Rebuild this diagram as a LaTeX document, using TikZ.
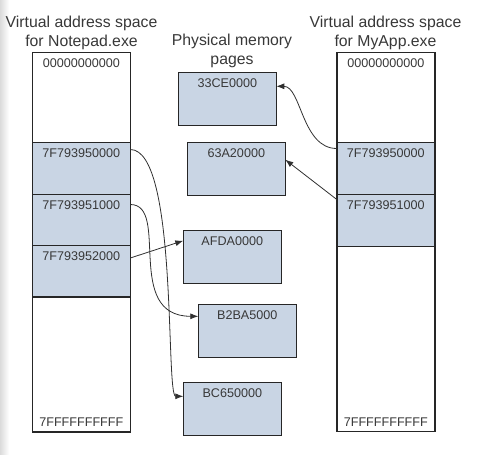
\documentclass[tikz,border=0pt]{standalone}
\usepackage{fontspec}
\setmainfont{Liberation Sans}
\usetikzlibrary{positioning,arrows.meta}
\definecolor{pageblue}{HTML}{C9D5E4}
\definecolor{edgegray}{HTML}{262626}
\definecolor{textgray}{HTML}{383838}
\definecolor{linkgray}{HTML}{303030}
\newcommand{\cellfont}{\fontsize{12.6}{15}\selectfont}
\newcommand{\titlefont}{\fontsize{15.8}{18.5}\selectfont}
\tikzset{
  mem/.style={draw=edgegray, line width=1.5pt, text=textgray, font=\cellfont,
              inner sep=0pt, outer sep=0pt, minimum width=98pt, text height=14.5pt},
  used/.style={mem, fill=pageblue},
  free/.style={mem, fill=white},
  link/.style={draw=linkgray, line width=0.8pt, -{Latex[length=8pt,width=6pt]}},
  heading/.style={font=\titlefont, text=textgray, align=center, inner sep=0pt, anchor=north},
}

\begin{document}
\begin{tikzpicture}[x=1pt,y=-1pt]
	\useasboundingbox (0,0) rectangle (493,455);
	\fill[left color=black!14, right color=white] (0,0) rectangle (9,455);
	\node[heading] (tn) at (81.5,16) {Virtual address space\\for Notepad.exe};
	\node[heading] (tp) at (232,34) {Physical memory\\pages};
	\node[heading] (tm) at (385.5,16) {Virtual address space\\for MyApp.exe};
	\node[free, anchor=north west, text depth=75.5pt] (nl0) at (32.3,52.5) {00000000000};
	\node[used, below=0pt of nl0, text depth=37.5pt] (nl1) {7F793950000};
	\node[used, below=0pt of nl1, text depth=36.5pt] (nl2) {7F793951000};
	\node[used, below=0pt of nl2, text depth=37pt] (nl3) {7F793952000};
	\node[free, below=0pt of nl3, text height=129.7pt, text depth=5.3pt] (nl4) {7FFFFFFFFFF};
	\node[free, anchor=north west, text depth=75.5pt] (ml0) at (336.8,52.5) {00000000000};
	\node[used, below=0pt of ml0, text depth=37.5pt] (ml1) {7F793950000};
	\node[used, below=0pt of ml1, text depth=37.5pt] (ml2) {7F793951000};
	\node[free, below=0pt of ml2, text height=179.7pt, text depth=5.3pt] (ml3) {7FFFFFFFFFF};
	\node[used, anchor=north west, text height=15pt, text depth=38pt] (pg1) at (178.3,72.3) {33CE0000};
	\node[used, anchor=north west, text height=15pt, text depth=38pt] (pg2) at (187.3,142.7) {63A20000};
	\node[used, anchor=north west, text height=15pt, text depth=38pt] (pg3) at (183.3,230.7) {AFDA0000};
	\node[used, anchor=north west, text height=15pt, text depth=38pt] (pg4) at (198.3,304.3) {B2BA5000};
	\node[used, anchor=north west, text height=15pt, text depth=38pt] (pg5) at (183.3,382.3) {BC650000};
	\draw[link] ([yshift=-7pt]nl1.north east) .. controls +(48,0) and +(-18,0) .. ([yshift=-14pt]pg5.north west);
	\draw[link] ([yshift=-10pt]nl2.north east) .. controls +(40,0) and +(-75,0) .. ([yshift=-12pt]pg4.north west);
	\draw[link] ([yshift=-12.5pt]nl3.north east) -- ([yshift=-10pt]pg3.north west);
	\draw[link] ([yshift=-6pt]ml1.north west) .. controls +(-35,0) and +(25,0) .. ([yshift=-14pt]pg1.north east);
	\draw[link] ([yshift=-5pt]ml2.north west) -- ([yshift=-17pt]pg2.north east);
\end{tikzpicture}
\end{document}
